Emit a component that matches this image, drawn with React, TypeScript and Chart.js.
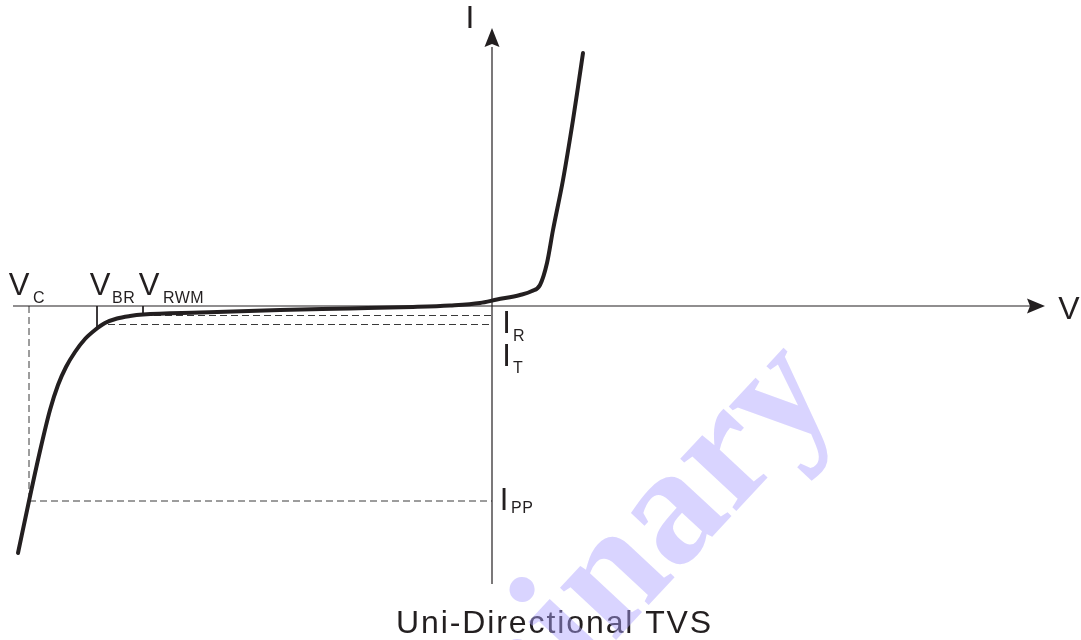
import React, { useEffect, useRef } from "react";
import { Chart, registerables } from "chart.js";

Chart.register(...registerables);

// I–V characteristic of a uni-directional TVS (arbitrary units)
const curveVoltage = [
  -47.4, -46.3, -45.2, -44.2, -43.4, -42.6, -41.7, -40.7, -39.7, -38.7, -37.5, -36.2, -34.9,
  -29.2, -21.2, -14.2, -7.9, -4.2, -1.2, 0.5, 2.8, 4.0, 4.8, 5.5, 6.1, 7.1, 8.1, 8.6, 9.1,
];
const curveCurrent = [
  -24.7, -19.5, -14.5, -10.4, -7.9, -6.1, -4.6, -3.3, -2.4, -1.7, -1.25, -1.0, -0.85,
  -0.65, -0.4, -0.25, -0.1, 0.05, 0.3, 0.65, 1.1, 1.5, 2.1, 4.3, 7.6, 12.6, 18.6, 21.9, 25.3,
];

// Characteristic points
const vcVoltage = -46.3;
const vbrVoltage = -39.5;
const vrwmVoltage = -34.9;
const irCurrent = -0.95;
const itCurrent = -1.85;
const ippCurrent = -19.5;
const itLineStartVoltage = -38.4;
const vbrTickEnd = -2.1;
const vrwmTickEnd = -0.8;

// Axis extents
const vAxisRange = [-47.9, 53.8];
const iAxisRange = [-27.8, 25.9];
const vArrowTip = 55.3;
const iArrowTip = 27.8;

// Visible window
const xWindow = [-49.2, 58.9];
const yWindow = [-33.4, 30.6];

// Texts
const vLabels = ["V", "V", "V"];
const vSubLabels = ["C", "BR", "RWM"];
const iLabels = ["I", "I", "I"];
const iSubLabels = ["R", "T", "PP"];
const axisLabels = ["V", "I"];
const titleText = "Uni-Directional TVS";
const watermarkText = "Preliminary";

const INK = "#231f20";
const SANS = '"Liberation Sans", Arial, Helvetica, sans-serif';

const seg = (x1: number, y1: number, x2: number, y2: number) => [
  { x: x1, y: y1 },
  { x: x2, y: y2 },
];

const annotations = {
  id: "tvsAnnotations",
  afterDatasetsDraw(chart: any) {
    const ctx = chart.ctx as CanvasRenderingContext2D;
    const px = (v: number) => chart.scales.x.getPixelForValue(v);
    const py = (i: number) => chart.scales.y.getPixelForValue(i);
    const x0 = px(0);
    const y0 = py(0);
    ctx.save();
    ctx.fillStyle = INK;
    // arrow heads
    const tipX = px(vArrowTip);
    ctx.beginPath();
    ctx.moveTo(tipX, y0);
    ctx.lineTo(tipX - 18, y0 - 7.5);
    ctx.lineTo(tipX - 15, y0);
    ctx.lineTo(tipX - 18, y0 + 7.5);
    ctx.closePath();
    ctx.fill();
    const tipY = py(iArrowTip);
    ctx.beginPath();
    ctx.moveTo(x0, tipY);
    ctx.lineTo(x0 - 7.5, tipY + 19);
    ctx.lineTo(x0, tipY + 16);
    ctx.lineTo(x0 + 7.5, tipY + 19);
    ctx.closePath();
    ctx.fill();

    const main = (t: string, x: number, y: number, size = 31) => {
      ctx.font = `${size}px ${SANS}`;
      ctx.textAlign = "center";
      ctx.textBaseline = "alphabetic";
      ctx.fillText(t, x, y);
    };
    const sub = (t: string, x: number, y: number) => {
      ctx.font = `16px ${SANS}`;
      ctx.textAlign = "left";
      ctx.textBaseline = "alphabetic";
      (ctx as any).letterSpacing = "0.5px";
      ctx.fillText(t, x, y);
      (ctx as any).letterSpacing = "0px";
    };

    // axis labels
    main(axisLabels[0], tipX + 24, y0 + 13, 32);
    main(axisLabels[1], x0 - 22, tipY, 32);

    // voltage labels
    const vPos = [vcVoltage, vbrVoltage, vrwmVoltage];
    const vMainOff = [-10, 3, 6];
    const vSubOff = [4, 15, 20];
    vPos.forEach((v, k) => {
      main(vLabels[k], px(v) + vMainOff[k], y0 - 11);
      sub(vSubLabels[k], px(v) + vSubOff[k], y0 - 3);
    });

    // current labels
    const iPos = [irCurrent, itCurrent, ippCurrent];
    const iMainX = [14.5, 14.5, 12];
    const iMainY = [17.5, 41.5, 9];
    const iSubX = [21, 21, 19];
    const iSubY = [25.5, 48.5, 12];
    iPos.forEach((i, k) => {
      main(iLabels[k], x0 + iMainX[k], py(i) + iMainY[k]);
      sub(iSubLabels[k], x0 + iSubX[k], py(i) + iSubY[k]);
    });

    // title
    ctx.font = `32px ${SANS}`;
    ctx.textAlign = "left";
    (ctx as any).letterSpacing = "1.9px";
    ctx.fillText(titleText, 396, 633);
    (ctx as any).letterSpacing = "0px";
    ctx.restore();
  },
  afterDraw(chart: any) {
    const ctx = chart.ctx as CanvasRenderingContext2D;
    ctx.save();
    ctx.translate(254.6, 1027.6);
    ctx.rotate((-47 * Math.PI) / 180);
    ctx.font = 'bold 167px "Liberation Serif", "Times New Roman", serif';
    ctx.textAlign = "left";
    ctx.textBaseline = "alphabetic";
    ctx.fillStyle = "rgba(170,160,255,0.45)";
    ctx.fillText(watermarkText, 0, 0);
    ctx.restore();
  },
};

export default function App() {
  const ref = useRef<HTMLCanvasElement | null>(null);

  useEffect(() => {
    if (!ref.current) return;
    const thin = { borderColor: INK, borderWidth: 1.2, pointRadius: 0, showLine: true, fill: false };
    const dashed = { borderColor: "#3a3a3a", borderWidth: 1, borderDash: [7, 4], pointRadius: 0, showLine: true, fill: false };
    const chart = new Chart(ref.current, {
      type: "scatter",
      data: {
        datasets: [
          {
            label: "I-V",
            data: curveVoltage.map((v, k) => ({ x: v, y: curveCurrent[k] })),
            borderColor: INK,
            borderWidth: 4,
            pointRadius: 0,
            showLine: true,
            cubicInterpolationMode: "monotone",
            borderCapStyle: "round",
            borderJoinStyle: "round",
            order: 0,
          } as any,
          { label: "V axis", data: seg(vAxisRange[0], 0, vAxisRange[1], 0), ...thin, order: 1 },
          { label: "I axis", data: seg(0, iAxisRange[0], 0, iAxisRange[1]), ...thin, order: 1 },
          { label: "VBR tick", data: seg(vbrVoltage, 0, vbrVoltage, vbrTickEnd), ...thin, borderWidth: 1, order: 1 },
          { label: "VRWM tick", data: seg(vrwmVoltage, 0, vrwmVoltage, vrwmTickEnd), ...thin, borderWidth: 1, order: 1 },
          { label: "VC", data: seg(vcVoltage, 0, vcVoltage, ippCurrent), ...dashed, order: 2 },
          { label: "IPP", data: seg(vcVoltage, ippCurrent, 0, ippCurrent), ...dashed, order: 2 },
          { label: "IR", data: seg(vrwmVoltage, irCurrent, 0, irCurrent), ...dashed, order: 2 },
          { label: "IT", data: seg(itLineStartVoltage, itCurrent, 0, itCurrent), ...dashed, order: 2 },
        ],
      },
      options: {
        responsive: false,
        animation: false,
        devicePixelRatio: 1,
        layout: { padding: 0, autoPadding: false },
        plugins: { legend: { display: false }, tooltip: { enabled: false }, title: { display: false } },
        events: [],
        scales: {
          x: { type: "linear", display: false, min: xWindow[0], max: xWindow[1] },
          y: { type: "linear", display: false, min: yWindow[0], max: yWindow[1] },
        },
      } as any,
      plugins: [annotations],
    });
    return () => chart.destroy();
  }, []);

  return (
    <div style={{ position: "absolute", left: 0, top: 0, width: 1081, height: 640, background: "#fff" }}>
      <canvas ref={ref} width={1081} height={640} style={{ display: "block" }} />
    </div>
  );
}
